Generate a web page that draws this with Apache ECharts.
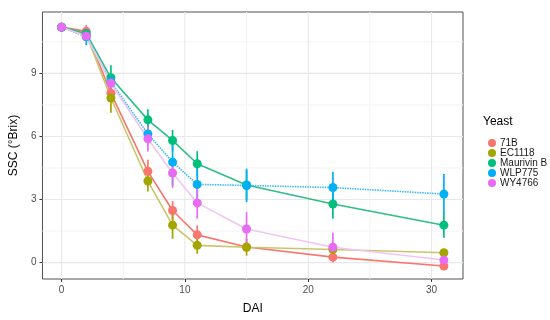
<!DOCTYPE html>
<html>
<head>
<meta charset="utf-8">
<script src="https://cdn.jsdelivr.net/npm/echarts@6/dist/echarts.min.js"></script>
<style>html,body{margin:0;padding:0;background:#fff}#c{width:550px;height:320px}</style>
</head>
<body>
<div id="c"></div>
<script>
// ---- data ----
var days = [0, 2, 4, 7, 9, 11, 15, 22, 31];
var yeasts = ['71B', 'EC1118', 'Maurivin B', 'WLP775', 'WY4766'];
var ssc71B      = [11.2, 11.0, 8.06, 4.34, 2.48, 1.32, 0.74, 0.26, -0.16];
var err71B      = [0.05, 0.3, 0.3, 0.55, 0.45, 0.45, 0.2, 0.25, 0.1];
var sscEC1118   = [11.2, 10.85, 7.83, 3.88, 1.78, 0.82, 0.73, 0.62, 0.47];
var errEC1118   = [0.05, 0.2, 0.7, 0.5, 0.65, 0.4, 0.4, 0.15, 0.1];
var sscMaurivin = [11.2, 10.9, 8.79, 6.79, 5.81, 4.70, 3.69, 2.79, 1.78];
var errMaurivin = [0.05, 0.15, 0.6, 0.5, 0.5, 0.6, 0.7, 0.7, 0.6];
var sscWLP775   = [11.2, 10.74, 8.6, 6.12, 4.78, 3.72, 3.67, 3.57, 3.26];
var errWLP775   = [0.05, 0.4, 0.3, 0.4, 1.1, 1.0, 0.8, 0.75, 0.95];
var sscWY4766   = [11.2, 10.78, 8.53, 5.89, 4.26, 2.84, 1.6, 0.73, 0.12];
var errWY4766   = [0.05, 0.2, 0.3, 0.6, 0.7, 0.75, 0.8, 0.7, 0.1];
var xTicks = [0, 10, 20, 30];
var xMinor = [5, 15, 25];
var yTicks = [0, 3, 6, 9];
var yMinor = [1.5, 4.5, 7.5, 10.5];

var means = [ssc71B, sscEC1118, sscMaurivin, sscWLP775, sscWY4766];
var errs  = [err71B, errEC1118, errMaurivin, errWLP775, errWY4766];
var pointColors = ['#F8766D', '#A3A500', '#00BF7D', '#00B0F6', '#E76BF3'];
var lineColors  = ['#F8766D', '#C9C66A', '#2DBE86', '#39B9EE', '#F2C4F6'];
var lineTypes   = ['solid', 'solid', 'solid', [1.5, 1], 'solid'];

var XMIN = -1.55, XMAX = 32.55, YMIN = -0.78, YMAX = 11.92;

var series = [];
// grid lines
series.push({
  type: 'custom', name: 'grid', silent: true, z: 0,
  data: [[0, 0]],
  renderItem: function (params, api) {
    var ch = [];
    function vline(x, c, w) {
      var a = api.coord([x, YMIN]), b = api.coord([x, YMAX]);
      ch.push({type: 'line', shape: {x1: a[0], y1: a[1], x2: b[0], y2: b[1]}, style: {stroke: c, lineWidth: w}});
    }
    function hline(y, c, w) {
      var a = api.coord([XMIN, y]), b = api.coord([XMAX, y]);
      ch.push({type: 'line', shape: {x1: a[0], y1: a[1], x2: b[0], y2: b[1]}, style: {stroke: c, lineWidth: w}});
    }
    xMinor.forEach(function (v) { vline(v, '#F3F3F3', 1); });
    yMinor.forEach(function (v) { hline(v, '#F3F3F3', 1); });
    xTicks.forEach(function (v) { vline(v, '#E8E8E8', 1.1); });
    yTicks.forEach(function (v) { hline(v, '#E8E8E8', 1.1); });
    return {type: 'group', children: ch};
  }
});
// lines
yeasts.forEach(function (n, i) {
  series.push({
    type: 'line', name: n + ' line', z: 2, symbol: 'none', silent: true,
    data: days.map(function (d, k) { return [d, means[i][k]]; }),
    lineStyle: {color: lineColors[i], width: 1.6, type: lineTypes[i]}
  });
});
// error bars
yeasts.forEach(function (n, i) {
  series.push({
    type: 'custom', name: n + ' err', z: 3, silent: true,
    data: days.map(function (d, k) { return [d, means[i][k], errs[i][k]]; }),
    renderItem: function (params, api) {
      var x = api.value(0), y = api.value(1), e = api.value(2);
      var a = api.coord([x, y - e]), b = api.coord([x, y + e]);
      return {type: 'line', shape: {x1: a[0], y1: a[1], x2: b[0], y2: b[1]},
              style: {stroke: pointColors[i], lineWidth: 1.7}};
    }
  });
});
// points
yeasts.forEach(function (n, i) {
  series.push({
    type: 'scatter', name: n, z: 4, symbolSize: 9,
    data: days.map(function (d, k) { return [d, means[i][k]]; }),
    itemStyle: {color: pointColors[i], opacity: 1}
  });
});

var chart = echarts.init(document.getElementById('c'), null, {renderer: 'canvas'});
chart.setOption({
  animation: false,
  backgroundColor: '#fff',
  textStyle: {fontFamily: 'Liberation Sans, Arial, sans-serif'},
  grid: {left: 36, right: 87, top: 12, bottom: 35, show: true, borderColor: '#505050', borderWidth: 1, backgroundColor: 'transparent'},
  xAxis: {
    type: 'value', min: XMIN, max: XMAX,
    name: 'DAI', nameLocation: 'middle', nameGap: 24,
    nameTextStyle: {fontSize: 12, color: '#000', fontFamily: 'Liberation Sans'},
    axisLine: {show: false, onZero: false},
    axisTick: {show: true, customValues: xTicks, length: 3, lineStyle: {color: '#333'}},
    axisLabel: {customValues: xTicks, fontSize: 10, color: '#4D4D4D', margin: 6, fontFamily: 'Liberation Sans'},
    splitLine: {show: false}
  },
  yAxis: {
    type: 'value', min: YMIN, max: YMAX,
    name: 'SSC (°Brix)', nameLocation: 'middle', nameGap: 21, nameRotate: 90,
    nameTextStyle: {fontSize: 12, color: '#000', fontFamily: 'Liberation Sans'},
    axisLine: {show: false, onZero: false},
    axisTick: {show: true, customValues: yTicks, length: 3, lineStyle: {color: '#333'}},
    axisLabel: {customValues: yTicks, fontSize: 10, color: '#4D4D4D', margin: 6, fontFamily: 'Liberation Sans'},
    splitLine: {show: false}
  },
  legend: {
    data: yeasts, orient: 'vertical', left: 483, top: 133,
    icon: 'circle', itemWidth: 8, itemHeight: 8, itemGap: 0,
    textStyle: {fontSize: 10, color: '#1a1a1a', lineHeight: 10, fontFamily: 'Liberation Sans', padding: [0, 0, 0, -1]},
    selectedMode: false
  },
  graphic: [{
    type: 'text', left: 483, top: 116,
    style: {text: 'Yeast', fontSize: 12, fill: '#000', fontFamily: 'Liberation Sans'}
  }],
  series: series
});
</script>
</body>
</html>
